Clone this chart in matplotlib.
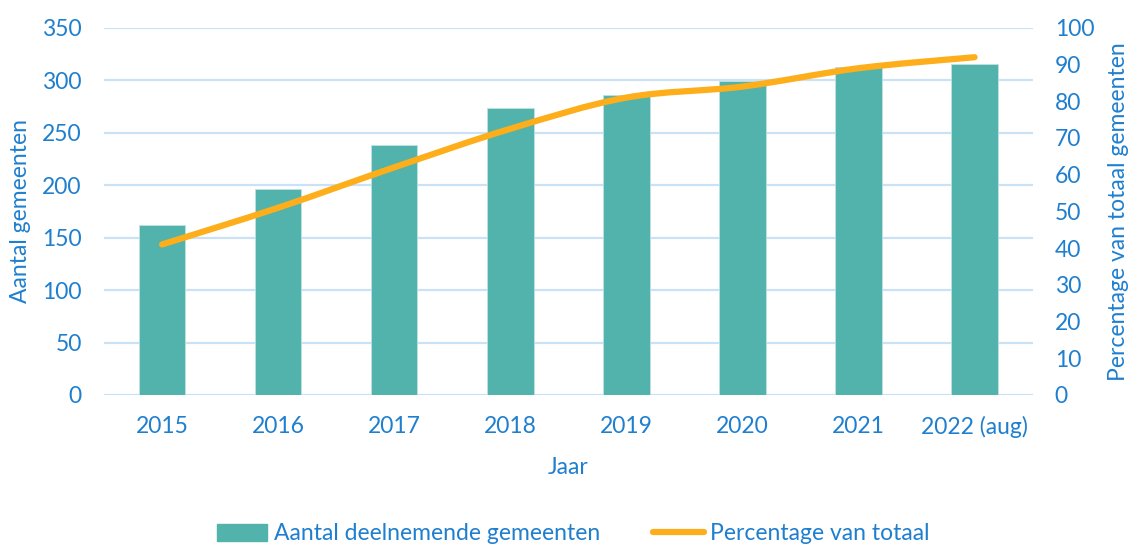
import matplotlib
matplotlib.use("Agg")
import matplotlib.pyplot as plt
from matplotlib.path import Path
from matplotlib.patches import PathPatch, Patch
from matplotlib.lines import Line2D
import numpy as np

years = ["2015", "2016", "2017", "2018", "2019", "2020", "2021", "2022 (aug)"]
aantal = [162, 196, 238, 274, 286, 299, 313, 316]
percentage = [41.0, 51.0, 62.0, 72.5, 81.0, 84.0, 89.0, 92.0]

bar_color = "#52B3AC"
line_color = "#FDAE1A"
text_color = "#1F7FCF"
grid_color = "#C9E2F5"

plt.rcParams['font.family'] = ['Lato', 'DejaVu Sans']
fs = 16.5

fig = plt.figure(figsize=(11.31, 5.46), dpi=100)
ax = fig.add_axes([0.092, 0.2766, 0.821, 0.6724])
ax2 = ax.twinx()

x = np.arange(len(years))
ax.bar(x, aantal, width=0.4, color=bar_color, edgecolor="#BFE3E0", linewidth=0.6, zorder=2)
ax.set_xlim(-0.5, len(years) - 0.5)
ax.set_ylim(0, 350)
ax.set_yticks(range(0, 351, 50))
ax.grid(axis='y', color=grid_color, linewidth=1.6, zorder=0)
ax.set_axisbelow(True)
ax.set_xticks(x)
ax.set_xticklabels(years)

ax2.set_ylim(0, 100)
ax2.set_yticks(range(0, 101, 10))

# smooth line through the data points (Catmull-Rom as cubic Bezier segments)
pts = np.column_stack([x, percentage]).astype(float)
verts = [tuple(pts[0])]
codes = [Path.MOVETO]
n = len(pts)
for i in range(n - 1):
    p0 = pts[i - 1] if i > 0 else pts[i]
    p1 = pts[i]
    p2 = pts[i + 1]
    p3 = pts[i + 2] if i + 2 < n else pts[i + 1]
    c1 = p1 + (p2 - p0) / 6.0
    c2 = p2 - (p3 - p1) / 6.0
    verts += [tuple(c1), tuple(c2), tuple(p2)]
    codes += [Path.CURVE4] * 3
patch = PathPatch(Path(verts, codes), facecolor='none', edgecolor=line_color,
                  linewidth=4.5, capstyle='round', joinstyle='round', zorder=3)
ax2.add_patch(patch)

for a in (ax, ax2):
    for s in a.spines.values():
        s.set_visible(False)
    a.tick_params(length=0, labelsize=fs, colors=text_color)

ax.tick_params(axis='x', pad=15)
ax.tick_params(axis='y', pad=16)
ax2.tick_params(axis='y', pad=16)

ax.set_xlabel("Jaar", fontsize=fs, color=text_color, labelpad=14)
ax.set_ylabel("Aantal gemeenten", fontsize=fs, color=text_color, labelpad=8)
ax2.set_ylabel("Percentage van totaal gemeenten", fontsize=fs, color=text_color, labelpad=10)

handles = [Patch(facecolor=bar_color, edgecolor=bar_color, label="Aantal deelnemende gemeenten"),
           Line2D([0], [0], color=line_color, linewidth=4.5, solid_capstyle='round', label="Percentage van totaal")]
fig.legend(handles=handles, loc='center', bbox_to_anchor=(0.507, 0.022), ncol=2, frameon=False,
           fontsize=fs, labelcolor=text_color, handlelength=2.2, handletextpad=0.3,
           columnspacing=2.3, handleheight=0.8)

fig.savefig("out.png", dpi=100)
